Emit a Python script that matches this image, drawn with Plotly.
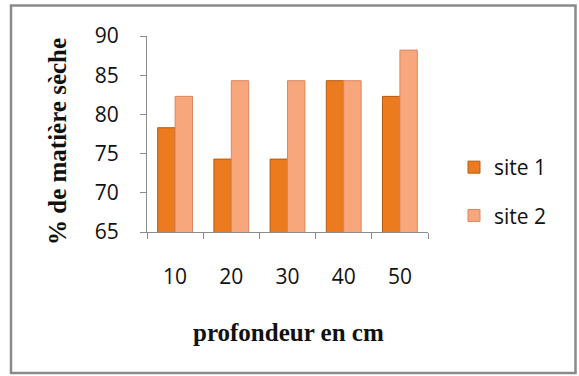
import plotly.graph_objects as go

categories = ["10", "20", "30", "40", "50"]
site1 = [78.3, 74.3, 74.3, 84.3, 82.3]
site2 = [82.3, 84.3, 84.3, 84.3, 88.2]
yticks = [65, 70, 75, 80, 85, 90]

W, H = 579, 376
L, R, T, B = 147, 428, 36, 232  # plot area in px
pw, ph = R - L, B - T

def px(x):
    return (x - L) / pw

def py(y):
    return (B - y) / ph

fig = go.Figure()
fig.add_trace(go.Bar(
    x=categories, y=site1, base=0, name="site 1", legendgroup="a",
    marker=dict(color="#EC7A1E", line=dict(color="#B85A10", width=1)),
))
fig.add_trace(go.Bar(
    x=categories, y=site2, base=0, name="site 2", legendgroup="b",
    marker=dict(color="#F8A77C", line=dict(color="#D98763", width=1)),
))

sans = "Open Sans, Noto Sans, sans-serif"
serif = "Liberation Serif, Times New Roman, serif"
tickfont = dict(family=sans, size=21, color="#111")
fig.update_layout(
    width=W, height=H,
    margin=dict(l=L, r=W - R, t=T, b=H - B, pad=0, autoexpand=False),
    paper_bgcolor="white", plot_bgcolor="white",
    barmode="group", bargap=0.38, bargroupgap=0,
    showlegend=True,
    legend=dict(x=px(454), y=py(147), xanchor="left", yanchor="top",
                font=dict(family=sans, size=21, color="#111"),
                tracegroupgap=18, traceorder="grouped", bgcolor="rgba(0,0,0,0)"),
    xaxis=dict(type="category", showline=True, linecolor="#8c8c8c", linewidth=1,
               ticks="outside", tickson="boundaries", ticklen=6, tickcolor="#8c8c8c",
               tickfont=tickfont, ticklabelstandoff=26, showgrid=False, zeroline=False,
               automargin=False),
    yaxis=dict(range=[65, 90], tickvals=yticks, ticktext=[str(v) for v in yticks],
               showline=True, linecolor="#8c8c8c", linewidth=1,
               ticks="outside", ticklen=6, tickcolor="#8c8c8c",
               tickfont=tickfont, ticklabelstandoff=17, showgrid=False, zeroline=False,
               automargin=False),
    annotations=[
        dict(text="<b>% de matière sèche</b>", xref="paper", yref="paper",
             x=px(57), y=py(142), textangle=-90, showarrow=False,
             xanchor="center", yanchor="middle",
             font=dict(family=serif, size=25, color="#111")),
        dict(text="<b>profondeur en cm</b>", xref="paper", yref="paper",
             x=px(288), y=py(332), showarrow=False,
             xanchor="center", yanchor="middle",
             font=dict(family=serif, size=25, color="#111")),
    ],
    shapes=[dict(type="rect", xref="paper", yref="paper",
                 x0=px(11), x1=px(575.5), y0=py(373), y1=py(5.5),
                 line=dict(color="#8a8a8a", width=2.5), fillcolor="rgba(0,0,0,0)", layer="below")],
)

fig.write_html("out.html",
               config={"displayModeBar": False},
               post_script="document.body.style.margin='0';document.body.style.padding='0';document.body.style.overflow='hidden';")
